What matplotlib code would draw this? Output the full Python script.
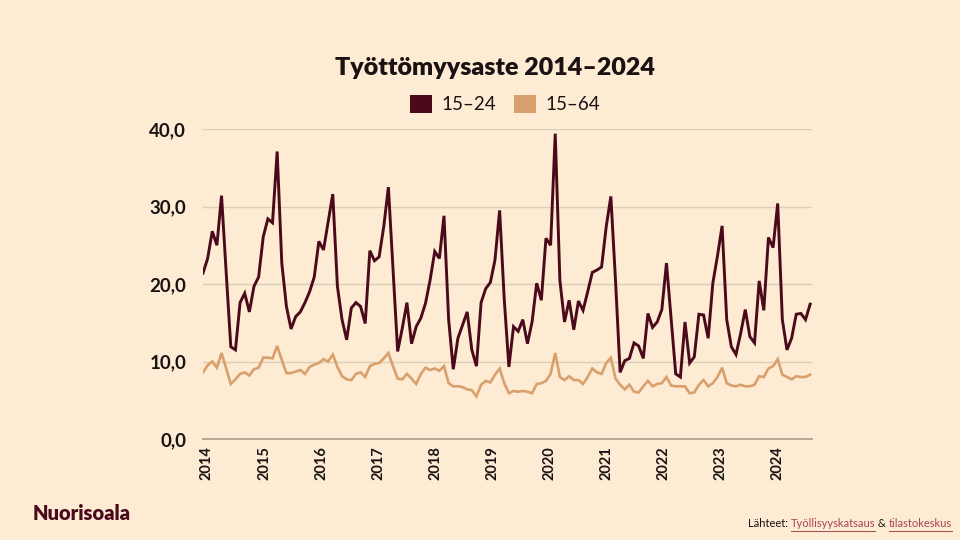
import numpy as np
import matplotlib
matplotlib.use('Agg')
import matplotlib.pyplot as plt
from matplotlib.patches import Patch
from matplotlib.lines import Line2D
from matplotlib.ticker import FuncFormatter

# ── data: monthly unemployment rate (%), Jan 2014 – Dec 2024 ──────────────────
youth_15_24 = [
    21.4, 23.3, 26.8, 25.0, 31.4, 21.5, 11.9, 11.5, 17.6, 18.8, 16.4, 19.7,   # 2014
    20.9, 26.1, 28.4, 27.9, 37.1, 22.7, 17.1, 14.2, 15.8, 16.4, 17.6, 19.0,   # 2015
    20.9, 25.5, 24.4, 28.0, 31.6, 19.7, 15.4, 12.8, 16.9, 17.6, 17.1, 14.9,   # 2016
    24.3, 23.0, 23.5, 27.4, 32.5, 21.8, 11.3, 14.3, 17.6, 12.3, 14.5, 15.6,   # 2017
    17.5, 20.5, 24.2, 23.3, 28.8, 15.4,  9.0, 13.0, 14.7, 16.4, 11.5,  9.4,   # 2018
    17.6, 19.4, 20.2, 23.1, 29.5, 18.0,  9.3, 14.5, 13.9, 15.4, 12.3, 15.1,   # 2019
    20.1, 17.9, 25.9, 25.0, 39.4, 20.5, 15.1, 17.9, 14.1, 17.8, 16.6, 19.0,   # 2020
    21.5, 21.8, 22.2, 27.4, 31.3, 20.5,  8.6, 10.1, 10.4, 12.4, 12.0, 10.4,   # 2021
    16.2, 14.4, 15.1, 16.7, 22.7, 15.5,  8.4,  8.0, 15.1,  9.8, 10.6, 16.1,   # 2022
    16.0, 13.0, 20.1, 23.6, 27.5, 15.4, 11.9, 10.9, 13.6, 16.7, 13.2, 12.4,   # 2023
    20.4, 16.6, 26.0, 24.7, 30.4, 15.4, 11.5, 13.0, 16.1, 16.2, 15.4, 17.4,   # 2024
]
all_15_64 = [
     8.6,  9.5, 10.0,  9.2, 11.1,  9.1,  7.1,  7.7,  8.4,  8.6,  8.2,  9.0,
     9.2, 10.5, 10.5, 10.4, 12.0, 10.2,  8.5,  8.5,  8.7,  8.9,  8.4,  9.3,
     9.6,  9.8, 10.3, 10.0, 10.9,  9.3,  8.1,  7.7,  7.6,  8.4,  8.6,  8.0,
     9.4,  9.7,  9.8, 10.4, 11.1,  9.4,  7.8,  7.7,  8.4,  7.8,  7.1,  8.4,
     9.2,  8.9,  9.1,  8.8,  9.4,  7.2,  6.8,  6.8,  6.7,  6.4,  6.3,  5.5,
     7.0,  7.5,  7.3,  8.3,  9.1,  7.2,  5.9,  6.2,  6.1,  6.2,  6.1,  5.9,
     7.1,  7.2,  7.5,  8.4, 11.1,  8.0,  7.6,  8.1,  7.6,  7.6,  7.1,  8.0,
     9.1,  8.6,  8.4,  9.8, 10.5,  7.8,  7.0,  6.4,  7.0,  6.1,  6.0,  6.8,
     7.5,  6.8,  7.1,  7.2,  8.0,  6.9,  6.8,  6.8,  6.8,  5.9,  6.0,  7.0,
     7.6,  6.8,  7.2,  8.0,  9.2,  7.2,  6.9,  6.8,  7.0,  6.8,  6.8,  7.0,
     8.1,  8.0,  9.1,  9.4, 10.3,  8.3,  8.0,  7.7,  8.1,  8.0,  8.0,  8.3,
]
years = ['2014', '2015', '2016', '2017', '2018', '2019',
         '2020', '2021', '2022', '2023', '2024']
series_labels = ['15–24', '15–64']

BG = '#FDEBD3'
DARK = '#4B0A1C'
LIGHT = '#D9A06E'
GRID = '#DCCDB8'
TEXT = '#1A1212'
LINK = '#A8454F'

plt.rcParams['font.family'] = ['Lato', 'DejaVu Sans']

fig = plt.figure(figsize=(9.6, 5.4), dpi=100, facecolor=BG)
ax = fig.add_axes([203 / 960, 1 - 439 / 540, 609 / 960, 310 / 540])
ax.set_facecolor(BG)

x = np.arange(len(youth_15_24))
ax.plot(x, youth_15_24, color=DARK, linewidth=2.1, solid_joinstyle='miter', zorder=3)
ax.plot(x, all_15_64, color=LIGHT, linewidth=1.9, solid_joinstyle='miter', zorder=2)

ax.set_ylim(0, 40)
ax.set_xlim(0, 131.4)
ax.set_yticks([0, 10, 20, 30, 40])
ax.yaxis.set_major_formatter(FuncFormatter(lambda v, p: f'{v:.1f}'.replace('.', ',')))
ax.set_xticks(0.86 + 12.32 * np.arange(len(years)))
ax.set_xticklabels(years, rotation=90, va='top', ha='center')

ax.grid(axis='y', color=GRID, linewidth=1.0)
ax.set_axisbelow(True)
for side in ['left', 'right', 'top']:
    ax.spines[side].set_visible(False)
ax.spines['bottom'].set_color('#B5A895')
ax.spines['bottom'].set_linewidth(1.4)
ax.tick_params(axis='both', length=0, colors=TEXT)
ax.tick_params(axis='y', pad=12, labelsize=13.5)
ax.tick_params(axis='x', pad=5, labelsize=10.5)
for lbl in ax.get_yticklabels() + ax.get_xticklabels():
    lbl.set_fontweight('bold')

fig.text(495 / 960, 1 - 68 / 540, 'Työttömyysaste 2014–2024', ha='center', va='center',
         fontsize=18, fontweight='heavy', color=TEXT)

handles = [Patch(facecolor=DARK, edgecolor='none'), Patch(facecolor=LIGHT, edgecolor='none')]
fig.legend(handles, series_labels, loc='center', bbox_to_anchor=(505 / 960, 1 - 104 / 540),
           ncol=2, frameon=False, fontsize=13.5, handlelength=1.15, handleheight=1.15,
           handletextpad=0.5, columnspacing=1.0, labelcolor=TEXT)

fig.text(33 / 960, 1 - 513 / 540, 'Nuorisoala', ha='left', va='center',
         fontsize=14.5, fontweight='heavy', color=DARK)

# source line with underlined links
renderer = fig.canvas.get_renderer()
pieces = [('Lähteet: ', TEXT, False), ('Työllisyyskatsaus', LINK, True),
          (' & ', TEXT, False), ('tilastokeskus', LINK, True)]
px = 748
py = 1 - 527 / 540
for txt, col, under in pieces:
    t = fig.text(px / 960, py, txt, ha='left', va='baseline', fontsize=8, color=col)
    bb = t.get_window_extent(renderer)
    if under:
        uy = bb.y0 - 1.5
        fig.add_artist(Line2D([bb.x0 / 960, bb.x1 / 960], [uy / 540, uy / 540],
                              color=col, linewidth=0.7))
    px = bb.x1

fig.savefig('out.png', dpi=100, facecolor=BG)
